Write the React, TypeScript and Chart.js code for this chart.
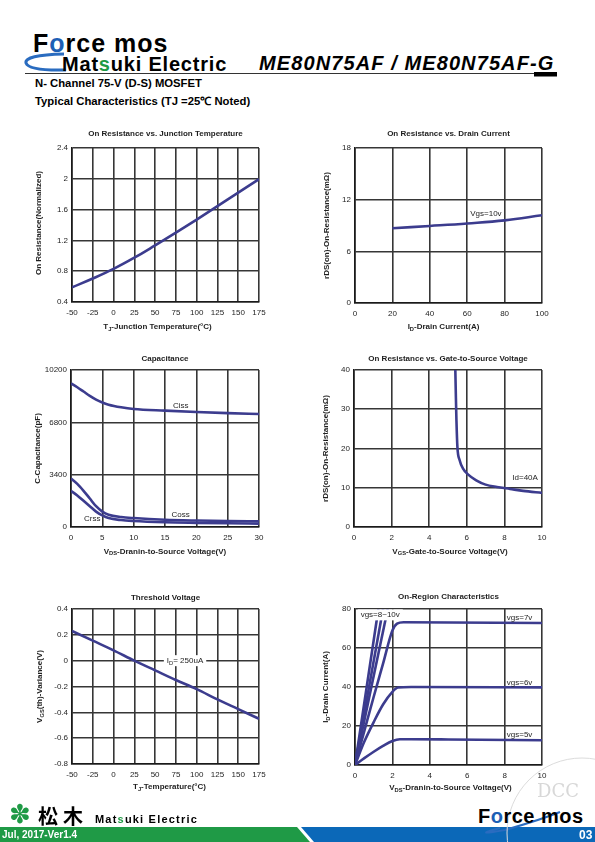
import React, { useEffect, useRef } from 'react';
import { Chart, registerables } from 'chart.js';

const FONT = "'Liberation Sans', Arial, Helvetica, sans-serif";
const CURVE = '#3c3c8e';
const GRID = '#363636';
const TXT = '#1e1e1e';

// ---------- Chart 1: On Resistance vs. Junction Temperature ----------
const TJ_TEMPS = [-50, -25, 0, 25, 50, 75, 100, 125, 150, 175];
const RON_NORM = [0.59, 0.705, 0.83, 0.975, 1.135, 1.3, 1.47, 1.645, 1.82, 1.995];
const C1_X_TICKS = ['-50', '-25', '0', '25', '50', '75', '100', '125', '150', '175'];
const C1_Y_TICKS = ['0.4', '0.8', '1.2', '1.6', '2', '2.4'];

// ---------- Chart 2: On Resistance vs. Drain Current ----------
const ID_CURRENT = [20, 40, 60, 80, 100];
const RDS_VS_ID = [8.68, 8.95, 9.24, 9.6, 10.2];
const C2_X_TICKS = ['0', '20', '40', '60', '80', '100'];
const C2_Y_TICKS = ['0', '6', '12', '18'];

// ---------- Chart 3: Capacitance ----------
const VDS_CAP = [0, 1, 2, 3, 4, 5, 6, 8, 10, 15, 20, 25, 30];
const CISS = [9330, 9080, 8800, 8520, 8280, 8090, 7950, 7780, 7670, 7560, 7470, 7400, 7340];
const COSS = [3150, 2800, 2350, 1850, 1350, 1000, 800, 650, 580, 470, 420, 390, 370];
const CRSS = [2350, 2050, 1700, 1350, 1000, 750, 580, 450, 390, 310, 270, 240, 220];
const C3_X_TICKS = ['0', '5', '10', '15', '20', '25', '30'];
const C3_Y_TICKS = ['0', '3400', '6800', '10200'];

// ---------- Chart 4: On Resistance vs. Gate-to-Source Voltage ----------
const VGS_SWEEP = [5.39, 5.42, 5.45, 5.5, 5.62, 5.8, 6.06, 6.5, 7, 7.6, 8.3, 9, 10];
const RDS_VS_VGS = [40, 33, 27, 20.4, 17, 14.9, 13.4, 11.9, 10.8, 10.2, 9.7, 9.2, 8.7];
const C4_X_TICKS = ['0', '2', '4', '6', '8', '10'];
const C4_Y_TICKS = ['0', '10', '20', '30', '40'];

// ---------- Chart 5: Threshold Voltage ----------
const TEMP_TH = [-50, -25, 0, 25, 50, 75, 100, 125, 150, 175];
const VTH_VAR = [0.23, 0.155, 0.08, 0.0, -0.075, -0.15, -0.22, -0.3, -0.375, -0.45];
const C5_X_TICKS = ['-50', '-25', '0', '25', '50', '75', '100', '125', '150', '175'];
const C5_Y_TICKS = ['-0.8', '-0.6', '-0.4', '-0.2', '0', '0.2', '0.4'];

// ---------- Chart 6: On-Region Characteristics ----------
const VGS5_VDS = [0, 0.5, 1, 1.5, 2, 2.4, 3, 5, 10];
const VGS5_ID = [0, 3.5, 6.8, 9.8, 12.3, 13.2, 13.2, 13.1, 12.7];
const VGS6_VDS = [0, 0.5, 1, 1.5, 2, 2.3, 3, 10];
const VGS6_ID = [0, 12, 22, 31, 37.5, 39.7, 40, 39.8];
const VGS7_VDS = [0, 0.5, 1, 1.5, 2, 2.25, 2.6, 10];
const VGS7_ID = [0, 17.5, 35, 52, 69, 72.5, 73.2, 72.8];
const VGS8_VDS = [0, 1.75];
const VGS8_ID = [0, 80];
const VGS9_VDS = [0, 1.5];
const VGS9_ID = [0, 80];
const VGS10_VDS = [0, 1.25];
const VGS10_ID = [0, 80];
const C6_X_TICKS = ['0', '2', '4', '6', '8', '10'];
const C6_Y_TICKS = ['0', '20', '40', '60', '80'];

// ---------- rich text plugin ----------
type Seg = { t: string; sub: boolean };
function parseSegs(s: string): Seg[] {
  const out: Seg[] = [];
  const re = /_\{([^}]*)\}/g;
  let last = 0;
  let m: RegExpExecArray | null;
  while ((m = re.exec(s))) {
    if (m.index > last) out.push({ t: s.slice(last, m.index), sub: false });
    out.push({ t: m[1], sub: true });
    last = re.lastIndex;
  }
  if (last < s.length) out.push({ t: s.slice(last), sub: false });
  return out;
}

function drawRich(ctx: CanvasRenderingContext2D, text: string, x: number, y: number, o: any) {
  const size = o.size || 8;
  const weight = o.bold ? 'bold ' : '';
  const segs = parseSegs(text);
  ctx.save();
  ctx.translate(x, y);
  if (o.rotate) ctx.rotate(-Math.PI / 2);
  const widths = segs.map((s) => {
    ctx.font = `${weight}${s.sub ? size * 0.72 : size}px ${FONT}`;
    return ctx.measureText(s.t).width;
  });
  const total = widths.reduce((a, b) => a + b, 0);
  if (o.bg) {
    ctx.fillStyle = o.bg;
    ctx.fillRect(-total / 2 - 3, -size / 2 - 1.5, total + 6, size + 3);
  }
  ctx.textBaseline = 'middle';
  ctx.textAlign = 'left';
  ctx.fillStyle = o.color || TXT;
  let cx = -total / 2;
  segs.forEach((s, i) => {
    ctx.font = `${weight}${s.sub ? size * 0.72 : size}px ${FONT}`;
    ctx.fillText(s.t, cx, s.sub ? size * 0.3 : 0);
    cx += widths[i];
  });
  ctx.restore();
}

const richTextPlugin = {
  id: 'richText',
  afterDraw(chart: any, _args: any, opts: any) {
    const ctx = chart.ctx as CanvasRenderingContext2D;
    const a = chart.chartArea;
    const xs = chart.scales.x;
    const ys = chart.scales.y;
    const cx = (a.left + a.right) / 2;
    const cy = (a.top + a.bottom) / 2;
    for (const it of opts.items || []) {
      if (it.kind === 'title') drawRich(ctx, it.text, cx + (it.dx || 0), a.top + it.dy, { size: 8, bold: true });
      else if (it.kind === 'xtitle') drawRich(ctx, it.text, cx + (it.dx || 0), a.bottom + it.dy, { size: 8, bold: true });
      else if (it.kind === 'ytitle') drawRich(ctx, it.text, a.left + it.dx, cy + (it.dy || 0), { size: 8, bold: true, rotate: true });
      else if (it.kind === 'label')
        drawRich(ctx, it.text, xs.getPixelForValue(it.at[0]), ys.getPixelForValue(it.at[1]), { size: 8, bg: it.bg });
    }
  },
};

Chart.register(...registerables, richTextPlugin);

// ---------- chart specs ----------
const IN = { l: 65, t: 25, r: 18, b: 36 };

type Series = { xs: number[]; ys: number[]; smooth?: boolean };
type Spec = {
  rect: { l: number; r: number; t: number; b: number };
  xLabels: string[];
  yLabels: string[];
  series: Series[];
  items: any[];
};

const SPECS: Spec[] = [
  {
    rect: { l: 72, r: 259, t: 148, b: 302 },
    xLabels: C1_X_TICKS,
    yLabels: C1_Y_TICKS,
    series: [{ xs: TJ_TEMPS, ys: RON_NORM, smooth: true }],
    items: [
      { kind: 'title', text: 'On Resistance vs. Junction Temperature', dy: -14 },
      { kind: 'xtitle', text: 'T_{J}-Junction Temperature(°C)', dx: -8, dy: 25 },
      { kind: 'ytitle', text: 'On Resistance(Normalized)', dx: -33, dy: -2 },
    ],
  },
  {
    rect: { l: 355, r: 542, t: 148, b: 303 },
    xLabels: C2_X_TICKS,
    yLabels: C2_Y_TICKS,
    series: [{ xs: ID_CURRENT, ys: RDS_VS_ID, smooth: true }],
    items: [
      { kind: 'title', text: 'On Resistance vs. Drain Current', dy: -14 },
      { kind: 'xtitle', text: 'I_{D}-Drain Current(A)', dx: -5, dy: 24 },
      { kind: 'ytitle', text: 'rDS(on)-On-Resistance(mΩ)', dx: -28 },
      { kind: 'label', text: 'Vgs=10v', at: [70, 10.4] },
    ],
  },
  {
    rect: { l: 71, r: 259, t: 370, b: 527 },
    xLabels: C3_X_TICKS,
    yLabels: C3_Y_TICKS,
    series: [
      { xs: VDS_CAP, ys: CISS },
      { xs: VDS_CAP, ys: COSS },
      { xs: VDS_CAP, ys: CRSS },
    ],
    items: [
      { kind: 'title', text: 'Capacitance', dy: -11 },
      { kind: 'xtitle', text: 'V_{DS}-Dranin-to-Source Voltage(V)', dx: 0, dy: 24.5 },
      { kind: 'ytitle', text: 'C-Capacitance(pF)', dx: -33 },
      { kind: 'label', text: 'Ciss', at: [17.5, 7900] },
      { kind: 'label', text: 'Coss', at: [17.5, 780] },
      { kind: 'label', text: 'Crss', at: [3.4, 560] },
    ],
  },
  {
    rect: { l: 354, r: 542, t: 370, b: 527 },
    xLabels: C4_X_TICKS,
    yLabels: C4_Y_TICKS,
    series: [{ xs: VGS_SWEEP, ys: RDS_VS_VGS }],
    items: [
      { kind: 'title', text: 'On Resistance vs. Gate-to-Source Voltage', dy: -11 },
      { kind: 'xtitle', text: 'V_{GS}-Gate-to-Source Voltage(V)', dx: 2, dy: 24.5 },
      { kind: 'ytitle', text: 'rDS(on)-On-Resistance(mΩ)', dx: -28 },
      { kind: 'label', text: 'Id=40A', at: [9.1, 12.5] },
    ],
  },
  {
    rect: { l: 72, r: 259, t: 609, b: 764 },
    xLabels: C5_X_TICKS,
    yLabels: C5_Y_TICKS,
    series: [{ xs: TEMP_TH, ys: VTH_VAR }],
    items: [
      { kind: 'title', text: 'Threshold Voltage', dy: -11 },
      { kind: 'xtitle', text: 'T_{J}-Temperature(°C)', dx: 4, dy: 23 },
      { kind: 'ytitle', text: 'V_{GS}(th)-Variance(V)', dx: -32 },
      { kind: 'label', text: 'I_{D}= 250uA', at: [86, 0], bg: '#ffffff' },
    ],
  },
  {
    rect: { l: 355, r: 542, t: 609, b: 765 },
    xLabels: C6_X_TICKS,
    yLabels: C6_Y_TICKS,
    series: [
      { xs: VGS5_VDS, ys: VGS5_ID },
      { xs: VGS6_VDS, ys: VGS6_ID },
      { xs: VGS7_VDS, ys: VGS7_ID },
      { xs: VGS8_VDS, ys: VGS8_ID },
      { xs: VGS9_VDS, ys: VGS9_ID },
      { xs: VGS10_VDS, ys: VGS10_ID },
    ],
    items: [
      { kind: 'title', text: 'On-Region Characteristics', dy: -12 },
      { kind: 'xtitle', text: 'V_{DS}-Dranin-to-Source Voltage(V)', dx: 2, dy: 23 },
      { kind: 'ytitle', text: 'I_{D}-Drain Current(A)', dx: -29 },
      { kind: 'label', text: 'vgs=8~10v', at: [1.35, 77], bg: '#ffffff' },
      { kind: 'label', text: 'vgs=7v', at: [8.8, 75.7] },
      { kind: 'label', text: 'vgs=6v', at: [8.8, 42.2] },
      { kind: 'label', text: 'vgs=5v', at: [8.8, 15.4] },
    ],
  },
];

function buildConfig(spec: Spec): any {
  const xVals = spec.xLabels.map(Number);
  const yVals = spec.yLabels.map(Number);
  const tickFont = { family: FONT, size: 8 };
  const axisCommon = {
    type: 'linear',
    grid: { color: GRID, lineWidth: 1.6, drawTicks: false },
    border: { color: '#1a1a1a', width: 1.6 },
  };
  return {
    type: 'line',
    data: {
      datasets: spec.series.map((s) => ({
        data: s.xs.map((x, i) => ({ x, y: s.ys[i] })),
        borderColor: CURVE,
        borderWidth: 2.6,
        pointRadius: 0,
        fill: false,
        ...(s.smooth ? { tension: 0.4 } : { cubicInterpolationMode: 'monotone' }),
      })),
    },
    options: {
      responsive: false,
      animation: false,
      devicePixelRatio: 1,
      events: [],
      layout: { padding: { top: IN.t, right: IN.r, left: 0, bottom: 0 } },
      plugins: {
        legend: { display: false },
        tooltip: { enabled: false },
        title: { display: false },
        richText: { items: spec.items },
      },
      scales: {
        x: {
          ...axisCommon,
          min: xVals[0],
          max: xVals[xVals.length - 1],
          afterBuildTicks: (ax: any) => {
            ax.ticks = xVals.map((v) => ({ value: v }));
          },
          afterFit: (ax: any) => {
            ax.height = IN.b;
          },
          ticks: {
            font: tickFont,
            color: TXT,
            padding: 6,
            maxRotation: 0,
            autoSkip: false,
            callback: (_v: any, i: number) => spec.xLabels[i],
          },
        },
        y: {
          ...axisCommon,
          min: yVals[0],
          max: yVals[yVals.length - 1],
          afterBuildTicks: (ax: any) => {
            ax.ticks = yVals.map((v) => ({ value: v }));
          },
          afterFit: (ax: any) => {
            ax.width = IN.l;
          },
          ticks: {
            font: tickFont,
            color: TXT,
            padding: 4,
            autoSkip: false,
            callback: (_v: any, i: number) => spec.yLabels[i],
          },
        },
      },
    },
  };
}

function ChartBox({ spec }: { spec: Spec }) {
  const ref = useRef<HTMLCanvasElement>(null);
  const left = spec.rect.l - IN.l;
  const top = spec.rect.t - IN.t;
  const w = spec.rect.r - spec.rect.l + IN.l + IN.r;
  const h = spec.rect.b - spec.rect.t + IN.t + IN.b;
  useEffect(() => {
    const c = new Chart(ref.current as HTMLCanvasElement, buildConfig(spec));
    return () => c.destroy();
  }, []);
  return (
    <canvas
      ref={ref}
      width={w}
      height={h}
      style={{ position: 'absolute', left, top, width: w, height: h }}
    />
  );
}

const abs = (left: number, baseline: number, size: number, extra: any = {}): any => ({
  position: 'absolute',
  left,
  top: baseline - 0.8465 * size,
  fontSize: size,
  lineHeight: 1,
  whiteSpace: 'nowrap',
  fontFamily: FONT,
  ...extra,
});

export default function App() {
  return (
    <div
      style={{
        position: 'absolute',
        left: 0,
        top: 0,
        width: 595,
        height: 842,
        background: '#fff',
        overflow: 'hidden',
        fontFamily: FONT,
        color: '#000',
      }}
    >
      {/* header */}
      <svg width={595} height={842} style={{ position: 'absolute', left: 0, top: 0 }}>
        <path d="M 64 54 Q 24 55 26 63 Q 29 71 66 70" stroke="#2a6cc0" strokeWidth={3} fill="none" />
        <line x1={25} y1={73.5} x2={557} y2={73.5} stroke="#333" strokeWidth={1} />
        <rect x={534} y={72} width={23} height={4.5} fill="#000" />
        {/* footer bars */}
        <polygon points="0,827 297,827 310,842 0,842" fill="#1f9a46" />
        <polygon points="301,827 595,827 595,842 314,842" fill="#0b68b8" />
        <path d="M 500 828 Q 470 836 505 830 Q 540 820 560 812" stroke="#2a6cc0" strokeWidth={2} fill="none" />
        <circle cx={582} cy={833} r={75} stroke="#dcdcdc" strokeWidth={1} fill="none" />
      </svg>

      <div style={abs(33, 52, 25, { fontWeight: 'bold', letterSpacing: 1 })}>
        F<span style={{ color: '#1d5fb5' }}>o</span>rce mos
      </div>
      <div style={abs(62, 71, 20, { fontWeight: 'bold', letterSpacing: 0.8 })}>
        Mat<span style={{ color: '#1f9a46' }}>s</span>uki Electric
      </div>
      <div style={abs(259, 70, 20, { fontWeight: 'bold', fontStyle: 'italic', letterSpacing: 1.1 })}>
        ME80N75AF / ME80N75AF-G
      </div>
      <div style={abs(35, 87.3, 11.3, { fontWeight: 'bold' })}>N- Channel 75-V (D-S) MOSFET</div>
      <div style={abs(35, 106, 11.3, { fontWeight: 'bold' })}>Typical Characteristics (TJ =25℃ Noted)</div>

      {SPECS.map((s, i) => (
        <ChartBox key={i} spec={s} />
      ))}

      {/* footer */}
      <div style={abs(9, 823, 26, { color: '#1f9a46', fontFamily: "'DejaVu Sans', sans-serif" })}>✽</div>
      <div style={abs(38, 823, 20, { fontWeight: 'bold', fontFamily: "'Noto Sans CJK JP', sans-serif", letterSpacing: 5 })}>
        松木
      </div>
      <div style={abs(95, 823.3, 11, { fontWeight: 'bold', letterSpacing: 1.2 })}>
        Mat<span style={{ color: '#1f9a46' }}>s</span>uki Electric
      </div>
      <div
        style={abs(2, 838.5, 11.5, {
          fontWeight: 'bold',
          color: '#fff',
          transform: 'scaleX(0.87)',
          transformOrigin: 'left center',
        })}
      >
        Jul, 2017-Ver1.4
      </div>
      <div style={abs(478, 823, 20, { fontWeight: 'bold', letterSpacing: 0.5 })}>
        F<span style={{ color: '#1d5fb5' }}>o</span>rce mos
      </div>
      <div style={abs(579, 839, 12, { fontWeight: 'bold', color: '#fff' })}>03</div>
      <div style={abs(537, 797, 18, { color: '#d8d8d8', fontFamily: "'DejaVu Serif', serif" })}>DCC</div>
    </div>
  );
}
